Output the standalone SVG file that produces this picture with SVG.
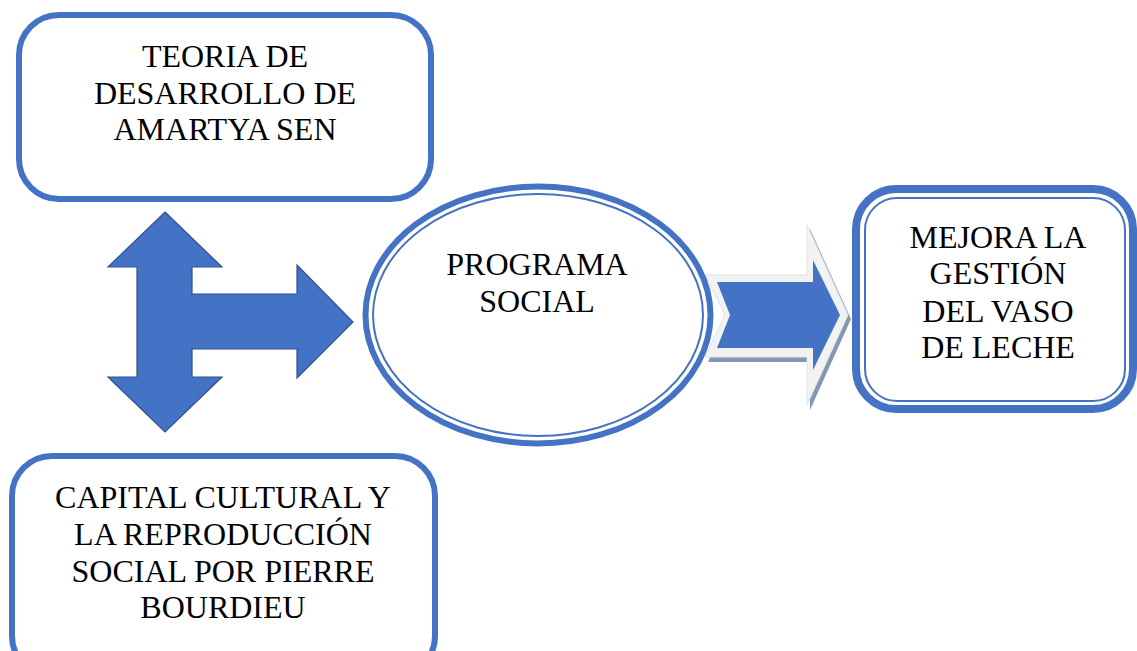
<svg xmlns="http://www.w3.org/2000/svg" width="1137" height="651" viewBox="0 0 1137 651">
<style>
.t{font-family:"Liberation Serif","Times New Roman",serif;font-size:32px;fill:#000;text-anchor:middle}
.box{fill:#fff;stroke:#4472C4;stroke-width:6}
.thick{fill:#fff;stroke:#4472C4;stroke-width:8}
.thin{fill:none;stroke:#4472C4;stroke-width:2}
</style>
<rect width="1137" height="651" fill="#fff"/>
<g id="connectors">
<path d="M165,212 L222,267 L192,267 L192,294 L297,294 L297,265 L353,322 L297,378 L297,349 L192,349 L192,377 L222,377 L165,432 L108,377 L137,377 L137,267 L108,267 Z" fill="#4472C4" stroke="#2F528F" stroke-width="1.2"/>
<path d="M708,279 L810,279 L810,229 L851,319 L810,410 L810,362 L708,362 L728,319 Z" fill="#8497B0"/>
<path d="M705,275 L807,275 L807,225 L848,315 L807,405 L807,357 L705,357 L725,315 Z" fill="#F2F2F2" stroke="#DDE2EA" stroke-width="1"/>
<path d="M717,282 L813,282 L813,260 L840,315 L813,370 L813,348 L717,348 L730,315 Z" fill="#4472C4"/>
</g>
<g id="teoria">
<rect class="box" x="19" y="15" width="412" height="184" rx="40"/>
<text class="t" x="225" y="67">TEORIA DE</text>
<text class="t" x="225" y="103.5">DESARROLLO DE</text>
<text class="t" x="225" y="140">AMARTYA SEN</text>
</g>
<g id="capital">
<rect class="box" x="12" y="456" width="423" height="220" rx="40"/>
<text class="t" x="223" y="508">CAPITAL CULTURAL Y</text>
<text class="t" x="223" y="545">LA REPRODUCCIÓN</text>
<text class="t" x="223" y="582">SOCIAL POR PIERRE</text>
<text class="t" x="223" y="618">BOURDIEU</text>
</g>
<g id="programa">
<ellipse class="box" cx="538" cy="315" rx="172.5" ry="128.5" stroke-width="7"/>
<ellipse class="thin" cx="538" cy="315" rx="165" ry="121"/>
<text class="t" x="537" y="275">PROGRAMA</text>
<text class="t" x="537" y="312">SOCIAL</text>
</g>
<g id="mejora">
<rect class="thick" x="856" y="189" width="277" height="220" rx="40"/>
<rect class="thin" x="865" y="198" width="260" height="203" rx="32"/>
<text class="t" x="998" y="248">MEJORA LA</text>
<text class="t" x="998" y="284">GESTIÓN</text>
<text class="t" x="998" y="322">DEL VASO</text>
<text class="t" x="998" y="358">DE LECHE</text>
</g>
</svg>
